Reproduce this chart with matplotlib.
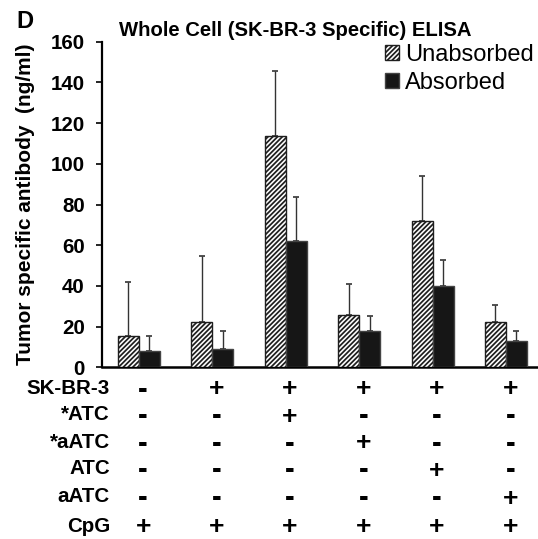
import matplotlib.pyplot as plt
import matplotlib.transforms as mtransforms
import numpy as np

# values
unabsorbed = [15.5, 22.5, 113.5, 25.5, 72, 22.5]
unabsorbed_err = [26.5, 32, 32, 15.5, 22, 8]
absorbed = [8, 9, 62, 18, 40, 13]
absorbed_err = [7.5, 9, 21.5, 7, 12.5, 5]

row_labels = ["SK-BR-3", "*ATC", "*aATC", "ATC", "aATC", "CpG"]
sk_br_3 = ["-", "+", "+", "+", "+", "+"]
star_atc = ["-", "-", "+", "-", "-", "-"]
star_aatc = ["-", "-", "-", "+", "-", "-"]
atc = ["-", "-", "-", "-", "+", "-"]
aatc = ["-", "-", "-", "-", "-", "+"]
cpg = ["+", "+", "+", "+", "+", "+"]

FONT = "Liberation Sans"
W, H = 538, 539

fig = plt.figure(figsize=(W / 100, H / 100), dpi=100)
ax = fig.add_axes([102 / W, (H - 367.3) / H, 436 / W, 325.6 / H])

x = np.arange(len(unabsorbed))
w = 0.286

plt.rcParams["hatch.linewidth"] = 1.25
b1 = ax.bar(x - w / 2, unabsorbed, w, color="white", edgecolor="#1e1e1e",
            hatch="///////", linewidth=1, label="Unabsorbed", zorder=3)
b2 = ax.bar(x + w / 2, absorbed, w, color="#161616", edgecolor="#444444",
            linewidth=1, label="Absorbed", zorder=3)
ax.errorbar(x - w / 2, unabsorbed, yerr=[np.zeros(6), unabsorbed_err], fmt="none",
            ecolor="#333333", elinewidth=1, capsize=2.5, capthick=1.2, zorder=2)
ax.errorbar(x + w / 2, absorbed, yerr=[np.zeros(6), absorbed_err], fmt="none",
            ecolor="#333333", elinewidth=1, capsize=2.5, capthick=1.2, zorder=2)

ax.set_xlim(-0.5, 5.436)
ax.set_ylim(0, 160)
ax.set_yticks(range(0, 161, 20))
ax.set_xticks([])
ax.spines["top"].set_visible(False)
ax.spines["right"].set_visible(False)
ax.spines["left"].set_linewidth(1.6)
ax.spines["bottom"].set_linewidth(1.8)
ax.tick_params(axis="y", length=4.5, width=1.2, pad=7.8)
for lab in ax.get_yticklabels():
    lab.set_fontfamily(FONT)
    lab.set_fontweight("bold")
    lab.set_fontsize(14.8)

ax.set_ylabel("Tumor specific antibody  (ng/ml)", fontfamily=FONT,
              fontweight="bold", fontsize=15)
ax.yaxis.set_label_coords(-0.153, 0.5)

leg = ax.legend(handles=[b1, b2], loc="upper left",
                bbox_to_anchor=(385 / W, 1 - 44 / H), bbox_transform=fig.transFigure,
                frameon=False, borderpad=0, borderaxespad=0,
                handlelength=0.6, handleheight=0.6, handletextpad=0.25,
                labelspacing=0.26, prop={"family": FONT, "size": 17})

fig.text(16 / W, 1 - 28 / H, "D", fontfamily=FONT, fontweight="bold",
         fontsize=17, ha="left", va="baseline")
fig.text(295 / W, 1 - 36 / H, "Whole Cell (SK-BR-3 Specific) ELISA",
         fontfamily=FONT, fontweight="bold", fontsize=14.6, ha="center", va="baseline")

# condition table under the bars
rows = [sk_br_3, star_atc, star_aatc, atc, aatc, cpg]
row_y = [388, 415, 442, 469, 497, 526]
trans = mtransforms.blended_transform_factory(ax.transData, fig.transFigure)
for name, marks, yp in zip(row_labels, rows, row_y):
    fig.text(110 / W, 1 - yp / H, name, fontfamily=FONT, fontweight="bold",
             fontsize=14.8, ha="right", va="center")
    for i, m in enumerate(marks):
        ax.text(i + 0.06, 1 - (yp + 1.5) / H, m, transform=trans,
                fontfamily=FONT, fontweight="bold",
                fontsize=19 if m == "+" else 21, ha="center", va="center")

fig.savefig("out.png", dpi=100)
